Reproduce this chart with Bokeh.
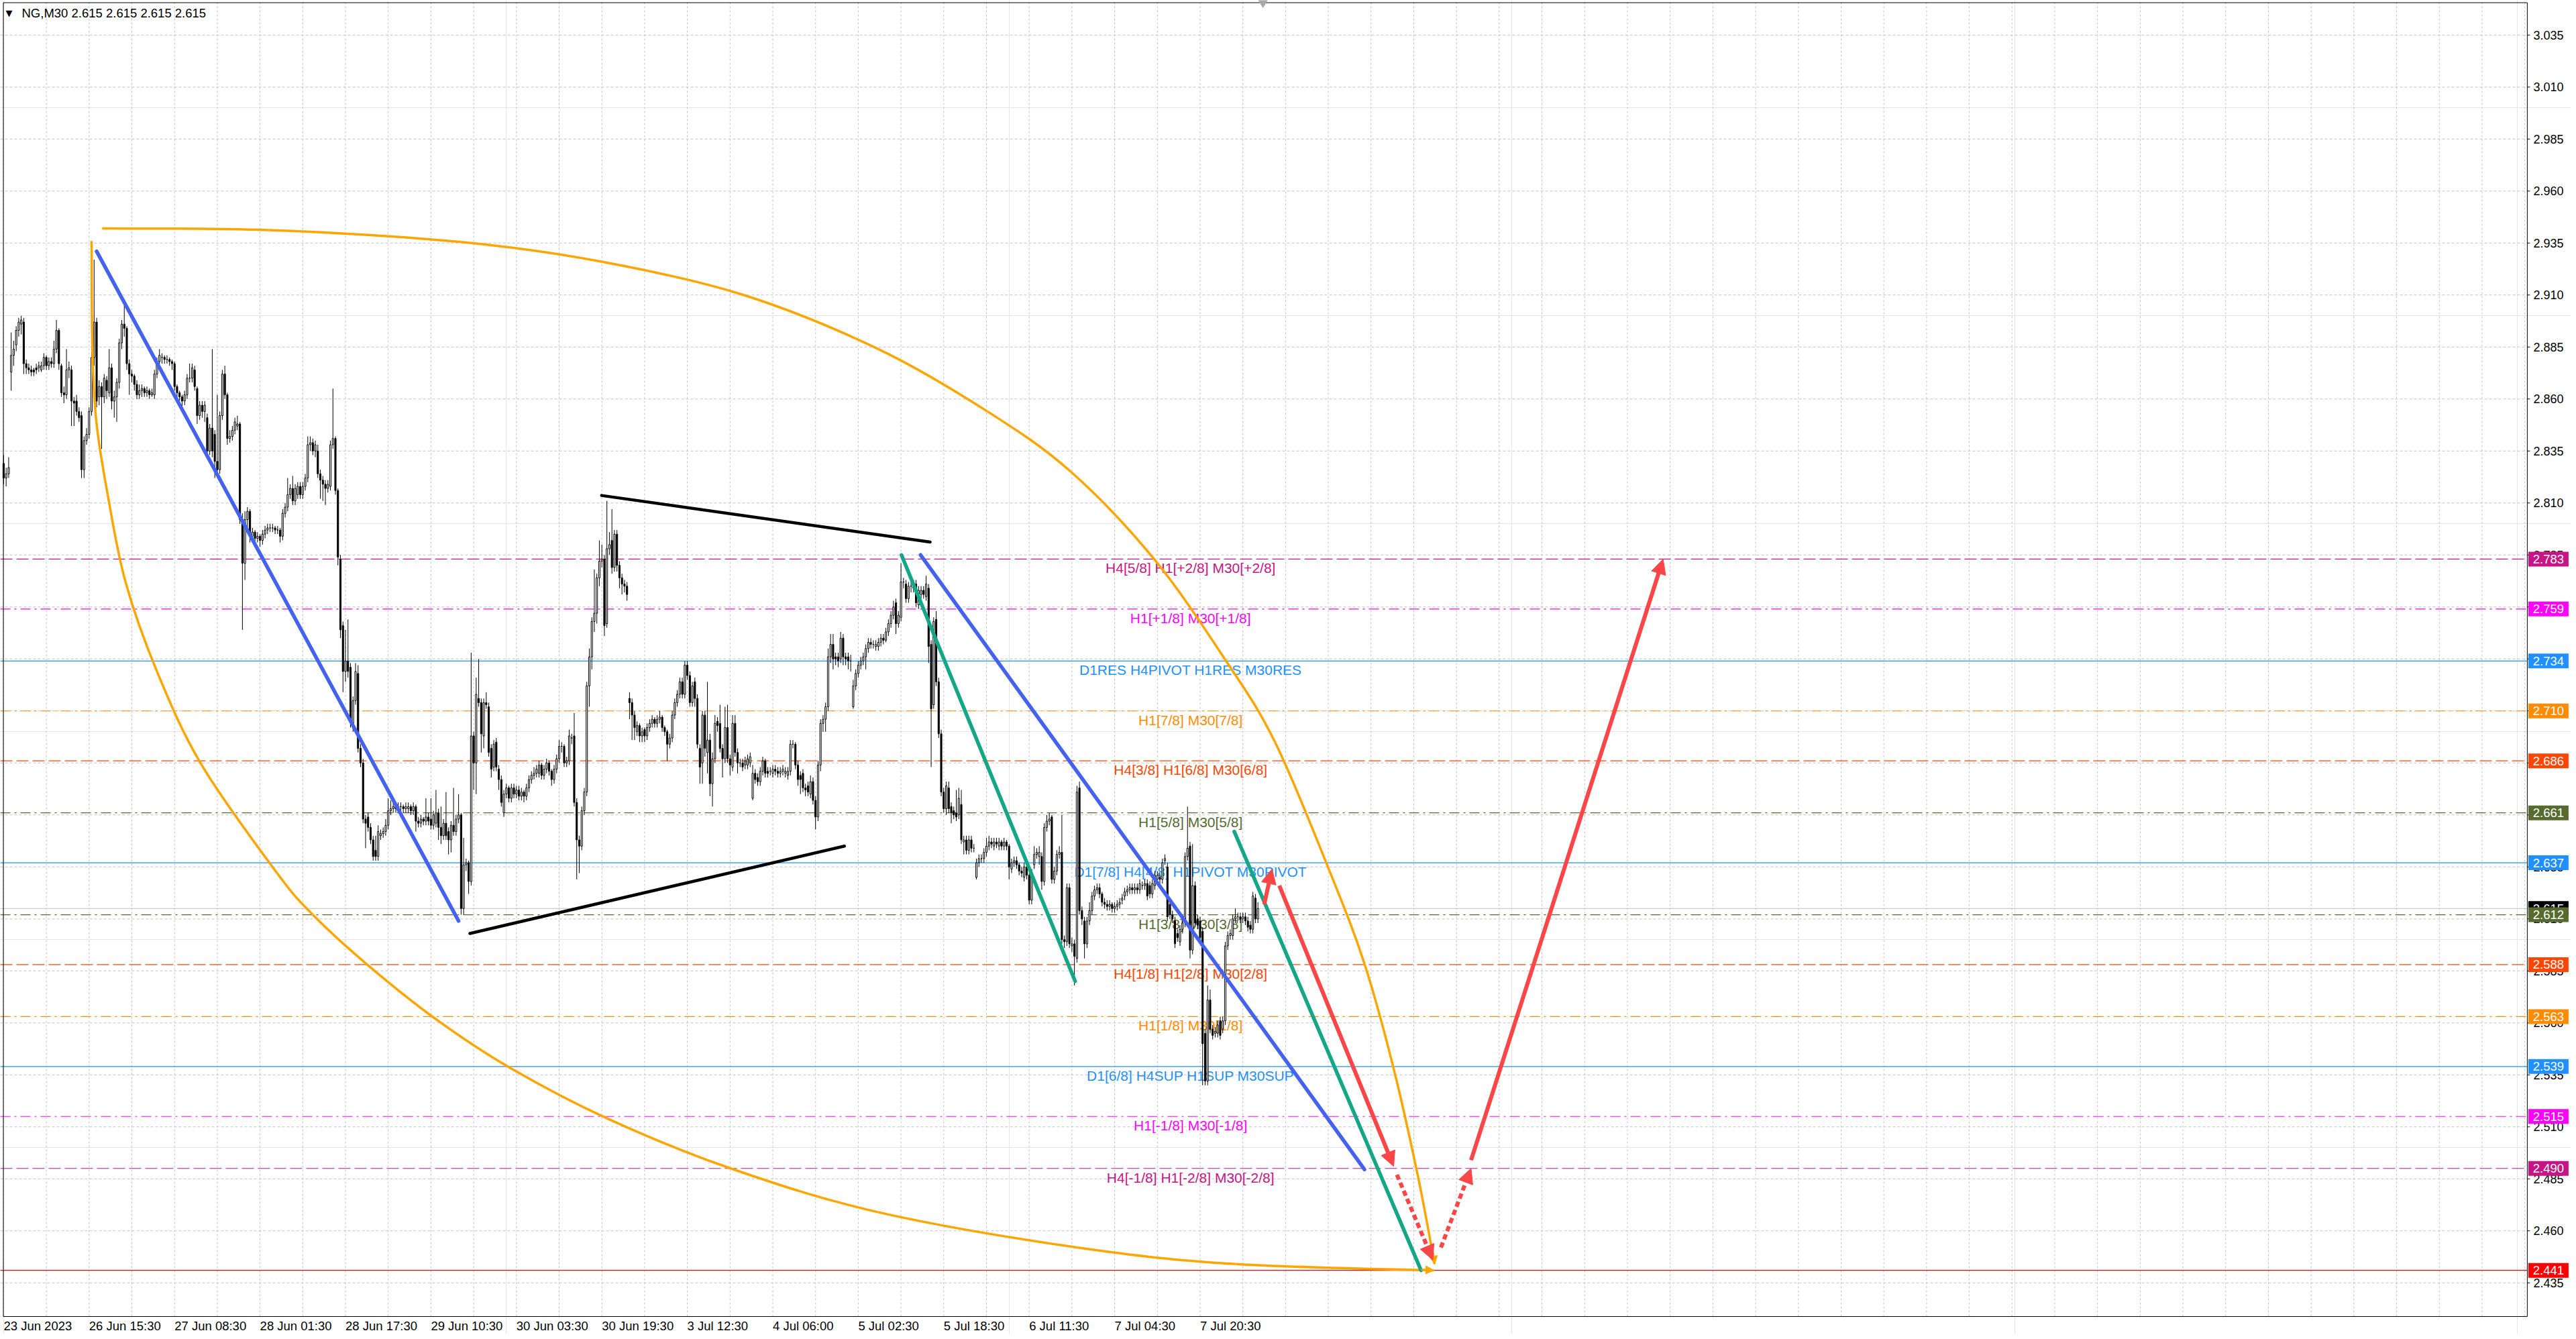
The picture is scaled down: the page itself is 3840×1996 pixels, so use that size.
import numpy as np
from bokeh.plotting import figure
from bokeh.models import ColumnDataSource, Range1d, Label, Arrow, NormalHead
from bokeh.core.properties import value
from bokeh.embed import file_html
from bokeh.resources import INLINE

# NG, M30 candles (bar index 0 = 23 Jun 2023 close of week)
OPEN = [
    2.829, 2.822, 2.824, 2.873, 2.881, 2.886, 2.893, 2.896, 2.897, 2.877,
    2.875, 2.874, 2.874, 2.875, 2.875, 2.874, 2.876, 2.880, 2.876, 2.878,
    2.877, 2.884, 2.893, 2.876, 2.863, 2.862, 2.874, 2.874, 2.859, 2.859,
    2.854, 2.852, 2.826, 2.840, 2.843, 2.854, 2.880, 2.897, 2.861, 2.866,
    2.861, 2.869, 2.863, 2.875, 2.859, 2.861, 2.868, 2.887, 2.896, 2.894,
    2.877, 2.872, 2.871, 2.867, 2.862, 2.864, 2.865, 2.863, 2.864, 2.862,
    2.862, 2.872, 2.878, 2.880, 2.880, 2.879, 2.879, 2.878, 2.877, 2.866,
    2.863, 2.861, 2.859, 2.862, 2.870, 2.870, 2.874, 2.865, 2.852, 2.857,
    2.854, 2.851, 2.835, 2.846, 2.843, 2.830, 2.826, 2.852, 2.872, 2.862,
    2.841, 2.842, 2.845, 2.847, 2.848, 2.802, 2.781, 2.802, 2.806, 2.794,
    2.796, 2.793, 2.794, 2.792, 2.795, 2.797, 2.798, 2.798, 2.798, 2.797,
    2.797, 2.794, 2.805, 2.808, 2.814, 2.817, 2.811, 2.814, 2.818, 2.814,
    2.818, 2.822, 2.838, 2.839, 2.835, 2.835, 2.824, 2.821, 2.819, 2.817,
    2.818, 2.838, 2.841, 2.816, 2.783, 2.751, 2.729, 2.734, 2.731, 2.704,
    2.715, 2.728, 2.692, 2.685, 2.658, 2.659, 2.654, 2.648, 2.643, 2.640,
    2.650, 2.651, 2.652, 2.655, 2.662, 2.663, 2.664, 2.663, 2.664, 2.664,
    2.663, 2.663, 2.664, 2.662, 2.664, 2.657, 2.656, 2.658, 2.657, 2.659,
    2.658, 2.655, 2.656, 2.661, 2.654, 2.650, 2.656, 2.652, 2.648, 2.655,
    2.652, 2.658, 2.660, 2.615, 2.636, 2.637, 2.628, 2.698, 2.685, 2.716,
    2.714, 2.698, 2.714, 2.712, 2.692, 2.683, 2.695, 2.682, 2.677, 2.661,
    2.670, 2.673, 2.668, 2.673, 2.670, 2.672, 2.669, 2.671, 2.669, 2.673,
    2.677, 2.679, 2.680, 2.680, 2.684, 2.679, 2.682, 2.685, 2.681, 2.677,
    2.682, 2.687, 2.693, 2.693, 2.685, 2.686, 2.697, 2.698, 2.666, 2.648,
    2.645, 2.662, 2.671, 2.722, 2.736, 2.753, 2.757, 2.774, 2.782, 2.783,
    2.752, 2.788, 2.792, 2.779, 2.795, 2.780, 2.774, 2.771, 2.770, 2.716,
    2.714, 2.708, 2.700, 2.703, 2.698, 2.701, 2.698, 2.702, 2.704, 2.706,
    2.704, 2.706, 2.707, 2.702, 2.700, 2.694, 2.697, 2.708, 2.714, 2.718,
    2.724, 2.718, 2.732, 2.727, 2.714, 2.724, 2.716, 2.692, 2.685, 2.708,
    2.690, 2.696, 2.675, 2.687, 2.705, 2.704, 2.692, 2.687, 2.702, 2.687,
    2.683, 2.704, 2.690, 2.685, 2.685, 2.684, 2.684, 2.685, 2.668, 2.680,
    2.678, 2.676, 2.681, 2.686, 2.681, 2.681, 2.680, 2.682, 2.681, 2.680,
    2.681, 2.680, 2.679, 2.681, 2.694, 2.694, 2.684, 2.679, 2.680, 2.673,
    2.674, 2.670, 2.676, 2.667, 2.659, 2.684, 2.704, 2.706, 2.712, 2.736,
    2.742, 2.736, 2.736, 2.735, 2.745, 2.736, 2.736, 2.734, 2.712, 2.722,
    2.728, 2.732, 2.734, 2.736, 2.740, 2.743, 2.742, 2.741, 2.741, 2.743,
    2.745, 2.744, 2.748, 2.752, 2.756, 2.762, 2.752, 2.755, 2.772, 2.771,
    2.764, 2.770, 2.770, 2.771, 2.761, 2.766, 2.768, 2.765, 2.769, 2.742,
    2.713, 2.754, 2.724, 2.699, 2.671, 2.663, 2.673, 2.664, 2.662, 2.661,
    2.660, 2.665, 2.647, 2.648, 2.643, 2.648, 2.644, 2.630, 2.637, 2.639,
    2.639, 2.642, 2.645, 2.647, 2.645, 2.647, 2.645, 2.647, 2.645, 2.647,
    2.645, 2.634, 2.637, 2.638, 2.636, 2.633, 2.630, 2.635, 2.631, 2.619,
    2.636, 2.641, 2.640, 2.640, 2.628, 2.654, 2.657, 2.659, 2.629, 2.633,
    2.641, 2.642, 2.600, 2.599, 2.625, 2.597, 2.598, 2.591, 2.673, 2.614,
    2.609, 2.598, 2.609, 2.614, 2.621, 2.624, 2.625, 2.622, 2.618, 2.617,
    2.616, 2.617, 2.615, 2.616, 2.617, 2.619, 2.621, 2.623, 2.624, 2.625,
    2.624, 2.625, 2.624, 2.626, 2.626, 2.627, 2.626, 2.622, 2.626, 2.629,
    2.630, 2.629, 2.638, 2.635, 2.617, 2.612, 2.609, 2.603, 2.599, 2.605,
    2.608, 2.640, 2.645, 2.595, 2.626, 2.610, 2.609, 2.604, 2.555, 2.532,
    2.571, 2.557, 2.555, 2.555, 2.561, 2.557, 2.561, 2.597, 2.602, 2.602,
    2.610, 2.611, 2.611, 2.610, 2.611, 2.609, 2.607, 2.605, 2.620, 2.610,
]
HIGH = [
    2.833, 2.827, 2.832, 2.892, 2.888, 2.895, 2.899, 2.900, 2.899, 2.879,
    2.877, 2.876, 2.875, 2.877, 2.878, 2.878, 2.882, 2.881, 2.880, 2.880,
    2.888, 2.898, 2.894, 2.877, 2.866, 2.884, 2.878, 2.876, 2.861, 2.862,
    2.856, 2.854, 2.842, 2.846, 2.856, 2.904, 2.927, 2.899, 2.869, 2.868,
    2.872, 2.871, 2.884, 2.877, 2.864, 2.870, 2.889, 2.898, 2.905, 2.895,
    2.879, 2.874, 2.872, 2.869, 2.867, 2.867, 2.866, 2.866, 2.865, 2.865,
    2.874, 2.880, 2.884, 2.882, 2.881, 2.881, 2.880, 2.879, 2.878, 2.867,
    2.864, 2.862, 2.864, 2.872, 2.877, 2.877, 2.876, 2.866, 2.859, 2.859,
    2.859, 2.853, 2.848, 2.884, 2.845, 2.862, 2.854, 2.874, 2.876, 2.863,
    2.845, 2.847, 2.851, 2.852, 2.849, 2.805, 2.806, 2.808, 2.807, 2.798,
    2.797, 2.796, 2.795, 2.797, 2.799, 2.800, 2.800, 2.800, 2.799, 2.799,
    2.798, 2.807, 2.810, 2.822, 2.819, 2.823, 2.819, 2.820, 2.820, 2.820,
    2.824, 2.842, 2.842, 2.841, 2.840, 2.838, 2.826, 2.823, 2.821, 2.821,
    2.840, 2.865, 2.842, 2.817, 2.785, 2.753, 2.749, 2.754, 2.733, 2.717,
    2.733, 2.732, 2.694, 2.687, 2.660, 2.661, 2.656, 2.650, 2.650, 2.655,
    2.653, 2.654, 2.658, 2.668, 2.667, 2.666, 2.665, 2.666, 2.666, 2.665,
    2.666, 2.666, 2.665, 2.666, 2.665, 2.659, 2.660, 2.659, 2.668, 2.661,
    2.668, 2.662, 2.672, 2.663, 2.664, 2.658, 2.671, 2.654, 2.657, 2.673,
    2.660, 2.670, 2.661, 2.649, 2.639, 2.638, 2.738, 2.700, 2.726, 2.735,
    2.716, 2.716, 2.719, 2.714, 2.694, 2.696, 2.697, 2.684, 2.679, 2.672,
    2.675, 2.674, 2.675, 2.675, 2.674, 2.674, 2.673, 2.672, 2.675, 2.679,
    2.681, 2.683, 2.684, 2.686, 2.685, 2.684, 2.687, 2.686, 2.682, 2.684,
    2.689, 2.696, 2.695, 2.694, 2.688, 2.701, 2.699, 2.709, 2.668, 2.650,
    2.664, 2.673, 2.724, 2.740, 2.755, 2.778, 2.776, 2.792, 2.790, 2.785,
    2.811, 2.796, 2.807, 2.797, 2.797, 2.782, 2.776, 2.773, 2.772, 2.719,
    2.716, 2.710, 2.705, 2.704, 2.702, 2.702, 2.704, 2.706, 2.708, 2.707,
    2.708, 2.710, 2.708, 2.703, 2.701, 2.699, 2.710, 2.716, 2.720, 2.726,
    2.726, 2.734, 2.734, 2.729, 2.724, 2.726, 2.718, 2.694, 2.710, 2.710,
    2.724, 2.699, 2.690, 2.708, 2.707, 2.713, 2.694, 2.712, 2.713, 2.689,
    2.708, 2.708, 2.692, 2.687, 2.687, 2.688, 2.689, 2.690, 2.684, 2.682,
    2.680, 2.683, 2.688, 2.687, 2.683, 2.683, 2.684, 2.684, 2.683, 2.683,
    2.684, 2.683, 2.683, 2.696, 2.696, 2.695, 2.686, 2.681, 2.682, 2.675,
    2.676, 2.679, 2.678, 2.669, 2.686, 2.706, 2.708, 2.714, 2.740, 2.747,
    2.747, 2.738, 2.738, 2.748, 2.747, 2.738, 2.738, 2.737, 2.725, 2.730,
    2.734, 2.736, 2.738, 2.742, 2.745, 2.745, 2.744, 2.744, 2.745, 2.747,
    2.747, 2.750, 2.754, 2.758, 2.763, 2.764, 2.758, 2.781, 2.774, 2.773,
    2.772, 2.773, 2.773, 2.773, 2.770, 2.770, 2.770, 2.775, 2.771, 2.744,
    2.755, 2.758, 2.726, 2.701, 2.673, 2.676, 2.676, 2.666, 2.664, 2.672,
    2.673, 2.672, 2.650, 2.650, 2.650, 2.650, 2.646, 2.639, 2.641, 2.641,
    2.644, 2.649, 2.650, 2.649, 2.649, 2.649, 2.649, 2.648, 2.649, 2.648,
    2.646, 2.639, 2.640, 2.640, 2.637, 2.635, 2.637, 2.637, 2.632, 2.634,
    2.645, 2.644, 2.645, 2.642, 2.656, 2.660, 2.661, 2.660, 2.635, 2.643,
    2.645, 2.660, 2.602, 2.627, 2.627, 2.601, 2.600, 2.674, 2.676, 2.616,
    2.611, 2.611, 2.618, 2.623, 2.626, 2.627, 2.627, 2.623, 2.620, 2.619,
    2.619, 2.618, 2.618, 2.619, 2.620, 2.622, 2.625, 2.626, 2.627, 2.627,
    2.627, 2.627, 2.629, 2.628, 2.629, 2.629, 2.628, 2.629, 2.633, 2.633,
    2.632, 2.639, 2.641, 2.637, 2.619, 2.614, 2.611, 2.605, 2.607, 2.610,
    2.642, 2.664, 2.647, 2.646, 2.628, 2.612, 2.611, 2.606, 2.557, 2.578,
    2.576, 2.559, 2.558, 2.561, 2.563, 2.563, 2.599, 2.604, 2.605, 2.612,
    2.615, 2.613, 2.613, 2.613, 2.613, 2.611, 2.609, 2.623, 2.622, 2.618,
]
LOW = [
    2.819, 2.818, 2.822, 2.864, 2.876, 2.883, 2.890, 2.891, 2.872, 2.872,
    2.872, 2.871, 2.871, 2.872, 2.873, 2.873, 2.874, 2.874, 2.874, 2.875,
    2.875, 2.882, 2.874, 2.861, 2.858, 2.860, 2.870, 2.847, 2.847, 2.852,
    2.849, 2.822, 2.822, 2.838, 2.841, 2.852, 2.876, 2.856, 2.857, 2.836,
    2.858, 2.860, 2.861, 2.855, 2.851, 2.849, 2.865, 2.884, 2.890, 2.874,
    2.862, 2.868, 2.864, 2.860, 2.860, 2.861, 2.861, 2.861, 2.860, 2.861,
    2.860, 2.870, 2.876, 2.877, 2.877, 2.877, 2.876, 2.874, 2.864, 2.861,
    2.859, 2.856, 2.857, 2.860, 2.868, 2.868, 2.864, 2.848, 2.850, 2.851,
    2.849, 2.832, 2.833, 2.832, 2.822, 2.823, 2.824, 2.850, 2.860, 2.838,
    2.839, 2.840, 2.843, 2.845, 2.800, 2.749, 2.773, 2.798, 2.791, 2.792,
    2.791, 2.791, 2.789, 2.790, 2.793, 2.795, 2.796, 2.796, 2.795, 2.795,
    2.791, 2.792, 2.803, 2.806, 2.812, 2.809, 2.809, 2.812, 2.812, 2.812,
    2.816, 2.820, 2.835, 2.833, 2.832, 2.822, 2.812, 2.811, 2.809, 2.815,
    2.816, 2.836, 2.814, 2.780, 2.745, 2.719, 2.724, 2.726, 2.702, 2.700,
    2.713, 2.690, 2.683, 2.656, 2.644, 2.652, 2.646, 2.638, 2.638, 2.638,
    2.648, 2.649, 2.650, 2.653, 2.660, 2.661, 2.661, 2.661, 2.662, 2.661,
    2.661, 2.661, 2.660, 2.660, 2.652, 2.654, 2.654, 2.655, 2.655, 2.655,
    2.653, 2.653, 2.654, 2.648, 2.646, 2.648, 2.648, 2.641, 2.642, 2.650,
    2.650, 2.656, 2.612, 2.612, 2.633, 2.622, 2.626, 2.672, 2.670, 2.712,
    2.690, 2.692, 2.711, 2.688, 2.678, 2.681, 2.681, 2.672, 2.664, 2.659,
    2.668, 2.666, 2.666, 2.668, 2.668, 2.667, 2.667, 2.666, 2.667, 2.671,
    2.675, 2.677, 2.678, 2.678, 2.677, 2.677, 2.680, 2.679, 2.674, 2.675,
    2.680, 2.685, 2.690, 2.683, 2.683, 2.684, 2.694, 2.664, 2.629, 2.632,
    2.643, 2.660, 2.669, 2.712, 2.730, 2.748, 2.752, 2.770, 2.779, 2.746,
    2.750, 2.785, 2.776, 2.777, 2.777, 2.769, 2.766, 2.767, 2.763, 2.706,
    2.696, 2.696, 2.698, 2.695, 2.695, 2.695, 2.696, 2.700, 2.702, 2.702,
    2.702, 2.704, 2.700, 2.698, 2.686, 2.692, 2.695, 2.706, 2.712, 2.716,
    2.716, 2.716, 2.725, 2.712, 2.712, 2.712, 2.692, 2.675, 2.675, 2.688,
    2.680, 2.669, 2.664, 2.685, 2.700, 2.690, 2.678, 2.685, 2.685, 2.679,
    2.681, 2.688, 2.680, 2.683, 2.681, 2.682, 2.682, 2.683, 2.667, 2.675,
    2.674, 2.674, 2.679, 2.678, 2.678, 2.679, 2.678, 2.679, 2.678, 2.678,
    2.679, 2.678, 2.677, 2.679, 2.692, 2.682, 2.674, 2.670, 2.671, 2.669,
    2.669, 2.668, 2.665, 2.653, 2.657, 2.681, 2.700, 2.700, 2.710, 2.733,
    2.730, 2.732, 2.731, 2.733, 2.732, 2.732, 2.730, 2.729, 2.711, 2.720,
    2.726, 2.730, 2.732, 2.730, 2.738, 2.740, 2.740, 2.739, 2.739, 2.741,
    2.742, 2.743, 2.746, 2.750, 2.754, 2.747, 2.750, 2.753, 2.769, 2.762,
    2.762, 2.767, 2.767, 2.760, 2.759, 2.764, 2.764, 2.763, 2.733, 2.683,
    2.711, 2.722, 2.697, 2.669, 2.661, 2.660, 2.661, 2.656, 2.658, 2.657,
    2.658, 2.646, 2.641, 2.641, 2.641, 2.642, 2.642, 2.629, 2.635, 2.637,
    2.637, 2.640, 2.643, 2.644, 2.643, 2.644, 2.643, 2.643, 2.643, 2.643,
    2.629, 2.632, 2.635, 2.634, 2.631, 2.630, 2.628, 2.629, 2.617, 2.617,
    2.634, 2.639, 2.636, 2.624, 2.626, 2.652, 2.655, 2.627, 2.627, 2.631,
    2.639, 2.598, 2.596, 2.597, 2.596, 2.594, 2.578, 2.589, 2.612, 2.607,
    2.591, 2.596, 2.607, 2.612, 2.619, 2.622, 2.620, 2.616, 2.615, 2.614,
    2.614, 2.613, 2.613, 2.614, 2.615, 2.617, 2.619, 2.621, 2.622, 2.622,
    2.622, 2.622, 2.622, 2.624, 2.624, 2.619, 2.620, 2.620, 2.624, 2.627,
    2.627, 2.627, 2.636, 2.609, 2.610, 2.608, 2.596, 2.599, 2.597, 2.603,
    2.606, 2.638, 2.591, 2.593, 2.606, 2.605, 2.599, 2.530, 2.530, 2.530,
    2.555, 2.552, 2.553, 2.553, 2.552, 2.555, 2.559, 2.595, 2.600, 2.600,
    2.608, 2.609, 2.608, 2.608, 2.607, 2.604, 2.603, 2.603, 2.608, 2.608,
]
CLOSE = [
    2.822, 2.824, 2.827, 2.881, 2.884, 2.893, 2.897, 2.898, 2.877, 2.875,
    2.874, 2.873, 2.873, 2.874, 2.876, 2.876, 2.880, 2.876, 2.878, 2.877,
    2.884, 2.893, 2.877, 2.863, 2.862, 2.874, 2.875, 2.859, 2.858, 2.854,
    2.851, 2.826, 2.840, 2.843, 2.854, 2.880, 2.897, 2.859, 2.866, 2.861,
    2.870, 2.864, 2.875, 2.859, 2.861, 2.868, 2.887, 2.896, 2.894, 2.877,
    2.872, 2.871, 2.867, 2.862, 2.864, 2.865, 2.863, 2.864, 2.862, 2.863,
    2.872, 2.878, 2.881, 2.880, 2.879, 2.879, 2.878, 2.877, 2.866, 2.863,
    2.861, 2.859, 2.862, 2.870, 2.870, 2.875, 2.866, 2.852, 2.857, 2.854,
    2.857, 2.835, 2.846, 2.835, 2.830, 2.826, 2.852, 2.872, 2.862, 2.841,
    2.842, 2.845, 2.849, 2.848, 2.802, 2.781, 2.802, 2.806, 2.794, 2.796,
    2.793, 2.794, 2.792, 2.795, 2.797, 2.798, 2.798, 2.798, 2.797, 2.797,
    2.794, 2.805, 2.808, 2.814, 2.817, 2.811, 2.817, 2.818, 2.814, 2.818,
    2.822, 2.838, 2.839, 2.835, 2.838, 2.824, 2.821, 2.819, 2.817, 2.819,
    2.838, 2.841, 2.816, 2.784, 2.749, 2.729, 2.734, 2.729, 2.706, 2.715,
    2.729, 2.692, 2.685, 2.658, 2.656, 2.654, 2.648, 2.640, 2.640, 2.652,
    2.651, 2.652, 2.655, 2.662, 2.663, 2.664, 2.663, 2.664, 2.664, 2.663,
    2.664, 2.664, 2.662, 2.664, 2.657, 2.656, 2.658, 2.657, 2.659, 2.657,
    2.655, 2.660, 2.661, 2.654, 2.650, 2.656, 2.650, 2.648, 2.655, 2.652,
    2.658, 2.660, 2.615, 2.636, 2.637, 2.628, 2.698, 2.685, 2.718, 2.714,
    2.699, 2.714, 2.713, 2.690, 2.682, 2.694, 2.683, 2.677, 2.666, 2.670,
    2.673, 2.668, 2.673, 2.670, 2.672, 2.669, 2.671, 2.669, 2.673, 2.677,
    2.679, 2.680, 2.682, 2.684, 2.679, 2.682, 2.685, 2.681, 2.677, 2.682,
    2.687, 2.693, 2.693, 2.685, 2.686, 2.698, 2.697, 2.666, 2.648, 2.645,
    2.662, 2.671, 2.722, 2.736, 2.753, 2.757, 2.774, 2.782, 2.783, 2.751,
    2.788, 2.790, 2.779, 2.795, 2.780, 2.774, 2.771, 2.770, 2.766, 2.714,
    2.708, 2.702, 2.703, 2.698, 2.700, 2.698, 2.702, 2.704, 2.706, 2.704,
    2.706, 2.707, 2.702, 2.700, 2.694, 2.697, 2.708, 2.714, 2.718, 2.724,
    2.718, 2.732, 2.727, 2.714, 2.722, 2.716, 2.694, 2.683, 2.708, 2.692,
    2.696, 2.675, 2.687, 2.704, 2.703, 2.692, 2.687, 2.702, 2.687, 2.684,
    2.704, 2.690, 2.685, 2.685, 2.683, 2.686, 2.687, 2.688, 2.680, 2.677,
    2.676, 2.681, 2.686, 2.680, 2.680, 2.681, 2.682, 2.681, 2.680, 2.681,
    2.682, 2.681, 2.681, 2.694, 2.694, 2.684, 2.677, 2.677, 2.673, 2.672,
    2.671, 2.676, 2.667, 2.659, 2.684, 2.704, 2.706, 2.712, 2.736, 2.742,
    2.735, 2.735, 2.734, 2.745, 2.736, 2.735, 2.734, 2.734, 2.722, 2.728,
    2.732, 2.734, 2.736, 2.740, 2.743, 2.742, 2.742, 2.742, 2.743, 2.745,
    2.744, 2.748, 2.752, 2.756, 2.760, 2.752, 2.756, 2.772, 2.772, 2.764,
    2.770, 2.770, 2.769, 2.762, 2.768, 2.768, 2.766, 2.771, 2.741, 2.711,
    2.753, 2.724, 2.699, 2.671, 2.663, 2.674, 2.663, 2.661, 2.660, 2.659,
    2.668, 2.648, 2.648, 2.643, 2.648, 2.644, 2.644, 2.637, 2.639, 2.639,
    2.642, 2.645, 2.647, 2.646, 2.647, 2.646, 2.647, 2.645, 2.647, 2.645,
    2.635, 2.637, 2.638, 2.636, 2.633, 2.632, 2.635, 2.631, 2.619, 2.632,
    2.641, 2.642, 2.642, 2.628, 2.654, 2.657, 2.658, 2.629, 2.633, 2.641,
    2.642, 2.600, 2.599, 2.625, 2.598, 2.598, 2.592, 2.671, 2.614, 2.610,
    2.598, 2.609, 2.614, 2.621, 2.624, 2.625, 2.622, 2.618, 2.617, 2.616,
    2.617, 2.615, 2.616, 2.617, 2.618, 2.620, 2.623, 2.624, 2.625, 2.624,
    2.625, 2.624, 2.627, 2.626, 2.627, 2.621, 2.622, 2.627, 2.631, 2.631,
    2.629, 2.637, 2.639, 2.611, 2.612, 2.610, 2.598, 2.601, 2.605, 2.608,
    2.640, 2.644, 2.595, 2.626, 2.608, 2.607, 2.601, 2.550, 2.532, 2.571,
    2.557, 2.554, 2.556, 2.559, 2.554, 2.561, 2.597, 2.602, 2.603, 2.610,
    2.611, 2.611, 2.610, 2.611, 2.609, 2.606, 2.605, 2.621, 2.610, 2.615,
]

# time axis labels (every 34 bars) and price ticks
XLAB_POS = [0, 34, 68, 102, 136, 170, 204, 238, 272, 306, 340, 374, 408, 442, 476]
XLAB_TEXT = ["23 Jun 2023", "26 Jun 15:30", "27 Jun 08:30", "28 Jun 01:30", "28 Jun 17:30",
             "29 Jun 10:30", "30 Jun 03:30", "30 Jun 19:30", "3 Jul 12:30", "4 Jul 06:00",
             "5 Jul 02:30", "5 Jul 18:30", "6 Jul 11:30", "7 Jul 04:30", "7 Jul 20:30"]
YTICKS = [3.035, 3.010, 2.985, 2.960, 2.935, 2.910, 2.885, 2.860, 2.835, 2.810, 2.785,
          2.760, 2.735, 2.710, 2.685, 2.660, 2.635, 2.610, 2.585, 2.560, 2.535, 2.510,
          2.485, 2.460, 2.435]

# Murrey / pivot levels
LEVELS = [2.783, 2.759, 2.734, 2.710, 2.686, 2.661, 2.637, 2.612, 2.588, 2.563, 2.539, 2.515, 2.490]
LEVEL_TEXT = ["H4[5/8] H1[+2/8] M30[+2/8]", "H1[+1/8] M30[+1/8]", "D1RES H4PIVOT H1RES M30RES",
              "H1[7/8] M30[7/8]", "H4[3/8] H1[6/8] M30[6/8]", "H1[5/8] M30[5/8]",
              "D1[7/8] H4[4/8] H1PIVOT M30PIVOT", "H1[3/8] M30[3/8]", "H4[1/8] H1[2/8] M30[2/8]",
              "H1[1/8] M30[1/8]", "D1[6/8] H4SUP H1SUP M30SUP", "H1[-1/8] M30[-1/8]",
              "H4[-1/8] H1[-2/8] M30[-2/8]"]
LEVEL_COLOR = ["#C71585", "#FF00FF", "#1E90FF", "#FF8C00", "#FF4500", "#556B2F", "#1E90FF",
               "#556B2F", "#FF4500", "#FF8C00", "#1E90FF", "#FF00FF", "#C71585"]
LEVEL_DASH = ["18 6", "15 6 3 6", "solid", "15 6 3 6", "18 6", "15 6 3 6", "solid",
              "15 6 3 6", "18 6", "15 6 3 6", "solid", "15 6 3 6", "18 6"]
TARGET = 2.441
BID = 2.615

# drawn objects (bar index, price)
OUTER_X = [39.2, 105.5, 182.0, 238.2, 294.4, 348.0, 391.4, 424.6, 457.7, 485.8, 505.8,
           527.5, 541.5, 553.0, 562.7, 569.3]
OUTER_Y = [2.942, 2.9412, 2.9355, 2.926, 2.910, 2.884, 2.854, 2.825, 2.783, 2.735, 2.695,
           2.633, 2.588, 2.538, 2.486, 2.444]
INNER_X = [35.0, 35.3, 36.9, 41.4, 48.5, 61.0, 78.8, 108.8, 123.0, 143.7, 170.6, 200.6,
           240.2, 289.3, 347.8, 427.0, 490.3, 569.0]
INNER_Y = [2.936, 2.884, 2.849, 2.814, 2.772, 2.729, 2.684, 2.632, 2.612, 2.589, 2.563,
           2.539, 2.514, 2.490, 2.469, 2.452, 2.444, 2.441]

BLUE_X0, BLUE_Y0, BLUE_X1, BLUE_Y1 = [37.0, 364.8], [2.931, 2.785], [181.0, 541.4], [2.609, 2.4895]
GREEN_X0, GREEN_Y0, GREEN_X1, GREEN_Y1 = [357.2, 489.6], [2.785, 2.652], [426.3, 563.9], [2.580, 2.441]
BLACK_X0, BLACK_Y0, BLACK_X1, BLACK_Y1 = [237.9, 185.5], [2.8136, 2.603], [368.6, 334.5], [2.7912, 2.645]

RED_X0 = [501.5, 507.5, 554.3, 571.8, 583.8]
RED_Y0 = [2.617, 2.626, 2.487, 2.452, 2.494]
RED_X1 = [504.6, 553.0, 568.6, 583.8, 660.2]
RED_Y1 = [2.634, 2.491, 2.446, 2.490, 2.783]
RED_DOTTED = [False, False, True, True, False]

BOX_PRICE = [2.783, 2.759, 2.734, 2.710, 2.686, 2.661, 2.637, 2.615, 2.612, 2.588, 2.563,
             2.539, 2.515, 2.490, 2.441]
BOX_COLOR = ["#C71585", "#FF00FF", "#1E90FF", "#FF8C00", "#FF4500", "#556B2F", "#1E90FF",
             "#000000", "#556B2F", "#FF4500", "#FF8C00", "#1E90FF", "#FF00FF", "#C71585", "#FF0000"]

# layout: the whole canvas is the frame, the price scale and time scale are drawn in it
W, H = 3832, 1988
PX_BAR, PX_PRICE = 3.747, 3100.0
X_START = -1.31
X_END = X_START + W / PX_BAR
X_CHART = 1004.0          # right edge of the chart / price scale line
Y_END = 3.0517
Y_START = Y_END - H / PX_PRICE
Y_CHART = 2.4188          # bottom edge of the chart / time scale line

ORANGE = "#FFA500"
RED = "#FA4646"
BLUE = "#4462F0"
GREEN = "#13A788"
GRID = "#C4C4C4"
FONT = "Liberation Sans"


def px_x(n):
    return n / PX_BAR


def px_y(n):
    return n / PX_PRICE


def smooth(xs, ys):
    # Catmull-Rom control points for a smooth pass through the drawn points
    xs, ys = np.asarray(xs), np.asarray(ys)
    xp = np.concatenate([[xs[0]], xs, [xs[-1]]])
    yp = np.concatenate([[ys[0]], ys, [ys[-1]]])
    n = len(xs) - 1
    cx0 = xs[:-1] + (xp[2:n + 2] - xp[0:n]) / 6
    cy0 = ys[:-1] + (yp[2:n + 2] - yp[0:n]) / 6
    cx1 = xs[1:] - (xp[3:n + 3] - xp[1:n + 1]) / 6
    cy1 = ys[1:] - (yp[3:n + 3] - yp[1:n + 1]) / 6
    return dict(x0=xs[:-1], y0=ys[:-1], x1=xs[1:], y1=ys[1:], cx0=cx0, cy0=cy0, cx1=cx1, cy1=cy1)


o = np.array(OPEN)
c = np.array(CLOSE)
hi = np.maximum.reduce([np.array(HIGH), o, c])
lo = np.minimum.reduce([np.array(LOW), o, c])
bars = np.arange(len(o))
candles = ColumnDataSource(dict(
    x=bars, h=hi, l=lo,
    top=np.maximum(o, c), bottom=np.minimum(o, c),
    fill=np.where(c >= o, "white", "black"),
))

p = figure(
    frame_width=W, frame_height=H,
    x_range=Range1d(X_START, X_END), y_range=Range1d(Y_START, Y_END),
    x_axis_location=None, y_axis_location=None,
    min_border=0, output_backend="svg", toolbar_location=None,
    background_fill_color="white", border_fill_color="white", outline_line_color=None,
)

# grid
grid_x = list(range(0, 1004, 17))
p.segment(x0=grid_x, y0=Y_CHART, x1=grid_x, y1=Y_END, line_color=GRID, line_dash="3 3", line_width=1)
p.segment(x0=X_START, y0=YTICKS, x1=X_CHART, y1=YTICKS, line_color=GRID, line_dash="4 3", line_width=1)

# horizontal levels with their captions
for lvl, col, dash in zip(LEVELS, LEVEL_COLOR, LEVEL_DASH):
    p.segment(x0=X_START, y0=lvl, x1=X_CHART, y1=lvl, line_color=col, line_width=1.2, line_dash=dash)
p.segment(x0=X_START, y0=BID, x1=X_CHART, y1=BID, line_color="#C0C0C0", line_width=1.2)
p.segment(x0=X_START, y0=TARGET, x1=X_CHART, y1=TARGET, line_color="#FF0000", line_width=1.2)
p.text(x=[472.2] * len(LEVELS), y=[v - px_y(2) for v in LEVELS], text=LEVEL_TEXT,
       text_color=LEVEL_COLOR, text_align="center", text_baseline="top",
       text_font=value(FONT), text_font_size="21px")

# candlesticks
p.segment(x0="x", y0="l", x1="x", y1="h", source=candles, line_color="black", line_width=1)
p.vbar(x="x", top="top", bottom="bottom", width=0.55, source=candles,
       fill_color="fill", line_color="black", line_width=1)

# arcs
p.bezier(source=ColumnDataSource(smooth(OUTER_X, OUTER_Y)), x0="x0", y0="y0", x1="x1", y1="y1",
         cx0="cx0", cy0="cy0", cx1="cx1", cy1="cy1", line_color=ORANGE, line_width=3.5)
p.bezier(source=ColumnDataSource(smooth(INNER_X, INNER_Y)), x0="x0", y0="y0", x1="x1", y1="y1",
         cx0="cx0", cy0="cy0", cx1="cx1", cy1="cy1", line_color=ORANGE, line_width=3.5)
p.add_layout(Arrow(x_start=OUTER_X[-1] - 0.8, y_start=OUTER_Y[-1] + 0.006, x_end=OUTER_X[-1],
                   y_end=OUTER_Y[-1], line_color=ORANGE, line_width=3,
                   end=NormalHead(size=12, fill_color=ORANGE, line_color=ORANGE)))
p.add_layout(Arrow(x_start=INNER_X[-1] - 5, y_start=INNER_Y[-1] + 0.0003, x_end=INNER_X[-1],
                   y_end=INNER_Y[-1], line_color=ORANGE, line_width=3,
                   end=NormalHead(size=12, fill_color=ORANGE, line_color=ORANGE)))

# trend lines
p.segment(BLUE_X0, BLUE_Y0, BLUE_X1, BLUE_Y1, line_color=BLUE, line_width=5.5, line_cap="round")
p.segment(GREEN_X0, GREEN_Y0, GREEN_X1, GREEN_Y1, line_color=GREEN, line_width=5.5, line_cap="round")
p.segment(BLACK_X0, BLACK_Y0, BLACK_X1, BLACK_Y1, line_color="black", line_width=4.5, line_cap="round")

# projected path arrows
for x0, y0, x1, y1, dotted in zip(RED_X0, RED_Y0, RED_X1, RED_Y1, RED_DOTTED):
    p.add_layout(Arrow(x_start=x0, y_start=y0, x_end=x1, y_end=y1,
                       line_color=RED, line_width=6, line_dash="8 5" if dotted else "solid",
                       end=NormalHead(size=22, fill_color=RED, line_color=RED)))

# chart frame, price scale and time scale
x_left = X_START + px_x(4.5)
y_top = Y_END - px_y(3.5)
p.segment(x0=[x_left, x_left, X_CHART, x_left],
          y0=[Y_CHART, y_top, Y_CHART, Y_CHART],
          x1=[x_left, X_CHART, X_CHART, X_CHART],
          y1=[y_top, y_top, y_top, Y_CHART],
          line_color="black", line_width=1)
p.scatter([501], [y_top], marker="inverted_triangle", size=13, color="#A8A8A8")
p.segment(x0=X_CHART, y0=YTICKS, x1=X_CHART + px_x(4), y1=YTICKS, line_color="black", line_width=1)
p.text(x=[X_CHART + px_x(9)] * len(YTICKS), y=YTICKS, text=[f"{t:.3f}" for t in YTICKS],
       text_align="left", text_baseline="middle", text_font=value(FONT),
       text_font_size="18px", text_color="black")
for price, col in zip(BOX_PRICE, BOX_COLOR):
    p.quad(left=X_CHART + px_x(1.5), right=X_CHART + px_x(61.5),
           top=price + px_y(11), bottom=price - px_y(11), fill_color=col, line_color=None)
    p.text(x=[X_CHART + px_x(31.5)], y=[price], text=[f"{price:.3f}"], text_align="center",
           text_baseline="middle", text_font=value(FONT), text_font_size="18.5px", text_color="white")
p.text(x=XLAB_POS, y=[Y_CHART - px_y(4)] * len(XLAB_POS), text=XLAB_TEXT, text_align="left",
       text_baseline="top", text_font=value(FONT), text_font_size="18.5px", text_color="black")

# symbol caption
p.add_layout(Label(x=X_START, y=Y_END, x_offset=8, y_offset=-19, text="\u25BC",
                   text_baseline="middle", text_font="DejaVu Sans", text_font_size="13px",
                   text_color="black"))
p.add_layout(Label(x=X_START, y=Y_END, x_offset=32, y_offset=-19,
                   text="NG,M30  2.615 2.615 2.615 2.615", text_baseline="middle",
                   text_font=FONT, text_font_size="18.5px", text_color="black"))

open("out.html", "w").write(file_html(p, INLINE))
